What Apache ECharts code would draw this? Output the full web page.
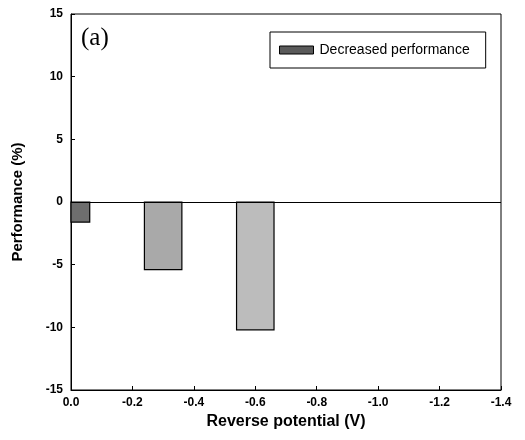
<!DOCTYPE html>
<html>
<head>
<meta charset="utf-8">
<script src="https://cdn.jsdelivr.net/npm/echarts@6/dist/echarts.min.js"></script>
<style>html,body{margin:0;padding:0;background:#fff}#c{width:525px;height:440px}</style>
</head>
<body>
<div id="c"></div>
<script>
var potentials = [0.0, -0.3, -0.6];
var performance = [-1.6, -5.4, -10.2];
var barColors = ['#6e6e6e', '#a9a9a9', '#bcbcbc'];
var seriesName = 'Decreased performance';
var xTicks = { min: -1.4, max: 0, interval: 0.2 };
var yTicks = { min: -15, max: 15, interval: 5 };
var barWidthV = 0.122; // bar width in volts

var chart = echarts.init(document.getElementById('c'));
var data = potentials.map(function (x, i) { return [x, performance[i], i]; });

function renderBar(params, api) {
  var x = api.value(0), y = api.value(1), idx = api.value(2);
  var p1 = api.coord([x + barWidthV / 2, 0]);
  var p2 = api.coord([x - barWidthV / 2, y]);
  var rect = {
    x: Math.min(p1[0], p2[0]), y: Math.min(p1[1], p2[1]),
    width: Math.abs(p2[0] - p1[0]), height: Math.abs(p2[1] - p1[1])
  };
  var cs = params.coordSys;
  var clipped = echarts.graphic.clipRectByRect(rect, { x: cs.x, y: cs.y, width: cs.width, height: cs.height });
  if (!clipped) return;
  return {
    type: 'rect', shape: clipped,
    style: { fill: barColors[idx], stroke: '#000', lineWidth: 1.2 }
  };
}

chart.setOption({
  animation: false,
  grid: { left: 71, right: 24, top: 14, bottom: 50, containLabel: false, outerBoundsMode: 'none',
          show: true, borderColor: '#000', borderWidth: 1, backgroundColor: 'transparent' },
  graphic: [{
    type: 'text', left: 81, top: 26,
    style: { text: '(a)', font: '25px "Liberation Serif", serif', fill: '#000' }
  }],
  legend: {
    left: 270, top: 32, orient: 'horizontal',
    padding: [11, 16, 11, 9],
    borderColor: '#000', borderWidth: 1,
    itemWidth: 34, itemHeight: 8, itemGap: 8,
    textStyle: { fontFamily: 'Liberation Sans, Arial', fontSize: 14, color: '#000', padding: [0,0,0,1] },
    data: [{ name: seriesName, icon: 'rect', itemStyle: { color: '#5a5a5a', borderColor: '#000', borderWidth: 1 } }]
  },
  xAxis: {
    type: 'value', inverse: true, min: xTicks.min, max: xTicks.max, interval: xTicks.interval,
    name: 'Reverse potential (V)', nameLocation: 'middle', nameGap: 22,
    nameTextStyle: { fontFamily: 'Liberation Sans, Arial', fontWeight: 'bold', fontSize: 16, color: '#000' },
    axisLine: { onZero: false, lineStyle: { color: '#000', width: 1 } },
    axisTick: { inside: true, length: 4, lineStyle: { color: '#000' } },
    axisLabel: { margin: 7, fontFamily: 'Liberation Sans, Arial', fontWeight: 'bold', fontSize: 12, color: '#000',
                 formatter: function (v) { return v.toFixed(1); } },
    splitLine: { show: false }
  },
  yAxis: {
    type: 'value', min: yTicks.min, max: yTicks.max, interval: yTicks.interval,
    name: 'Performance (%)', nameLocation: 'middle', nameGap: 46,
    nameTextStyle: { fontFamily: 'Liberation Sans, Arial', fontWeight: 'bold', fontSize: 15, color: '#000' },
    axisLine: { onZero: false, lineStyle: { color: '#000', width: 1 } },
    axisTick: { inside: true, length: 4, lineStyle: { color: '#000' } },
    axisLabel: { margin: 8, fontFamily: 'Liberation Sans, Arial', fontWeight: 'bold', fontSize: 12, color: '#000' },
    splitLine: { show: false }
  },
  series: [{
    name: seriesName, type: 'custom', renderItem: renderBar,
    itemStyle: { color: '#5a5a5a' },
    encode: { x: 0, y: 1 },
    data: data,
    markLine: {
      silent: true, symbol: 'none', label: { show: false },
      lineStyle: { color: '#000', type: 'solid', width: 1 },
      data: [{ yAxis: 0 }]
    }
  }]
});
</script>
</body>
</html>
